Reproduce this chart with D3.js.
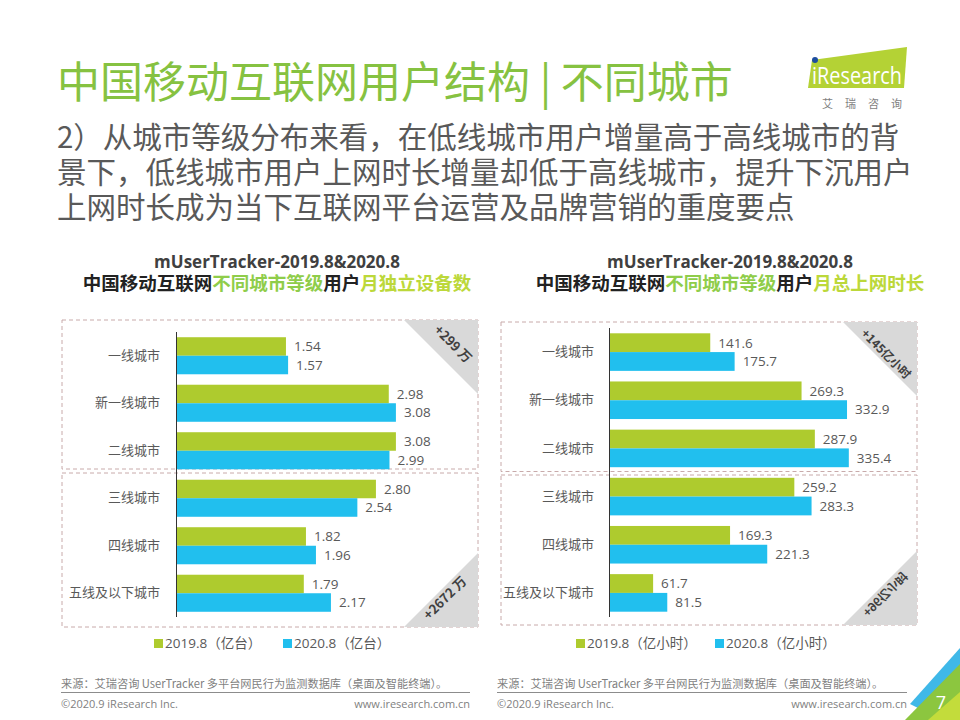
<!DOCTYPE html>
<html><head><meta charset="utf-8">
<script src="https://cdn.jsdelivr.net/npm/d3@7"></script>
<style>body{margin:0;background:#fff} svg{display:block}</style>
</head><body><svg id="c" width="960" height="720"></svg>
<script>
// ---------- data ----------
const categories = ["一线城市","新一线城市","二线城市","三线城市","四线城市","五线及以下城市"];
const seriesKeys = ["2019.8","2020.8"];
const devices2019 = [1.54, 2.98, 3.08, 2.80, 1.82, 1.79];
const devices2020 = [1.57, 3.08, 2.99, 2.54, 1.96, 2.17];
const hours2019 = [141.6, 269.3, 287.9, 259.2, 169.3, 61.7];
const hours2020 = [175.7, 332.9, 335.4, 283.3, 221.3, 81.5];
const deviceLegend = ["2019.8（亿台）","2020.8（亿台）"];
const hourLegend = ["2019.8（亿小时）","2020.8（亿小时）"];
const deviceDeltas = ["+299 万","+2672 万"];
const hourDeltas = ["+145亿小时","+96亿小时"];

const GREEN = "#aecb2e", BLUE = "#21bfee";
const TXT = "#595959";
const CJK = "'Noto Sans CJK SC','Noto Sans',sans-serif";
const LAT = "'Open Sans','Noto Sans CJK SC',sans-serif";

const svg = d3.select("#c");

// ---------- header ----------
svg.append("text").attr("x",57).attr("y",98)
  .attr("font-family",CJK).attr("font-size",43).attr("fill","#86c241")
  .text("中国移动互联网用户结构 | 不同城市");

const sub = ["2）从城市等级分布来看，在低线城市用户增量高于高线城市的背",
             "景下，低线城市用户上网时长增量却低于高线城市，提升下沉用户",
             "上网时长成为当下互联网平台运营及品牌营销的重度要点"];
svg.append("g").selectAll("text").data(sub).join("text")
  .attr("x",57).attr("y",(d,i)=>148+i*35)
  .attr("font-family",CJK).attr("font-size",29.5).attr("fill",TXT)
  .text(d=>d);

// logo
const logo = svg.append("g");
logo.append("path").attr("d","M812,60 L907,47 L904,88 L808,88 Z").attr("fill","#b4d235");
logo.append("circle").attr("cx",815).attr("cy",60).attr("r",3).attr("fill","#1d4e9e");
logo.append("text").attr("x",812).attr("y",84).attr("font-family",LAT).attr("font-size",24)
  .attr("fill","#fff").attr("textLength",90).attr("lengthAdjust","spacingAndGlyphs").text("iResearch");
logo.append("text").attr("x",822).attr("y",108).attr("font-family",CJK).attr("font-size",11)
  .attr("fill","#7f7f7f").attr("letter-spacing",12).text("艾瑞咨询");

// ---------- chart function ----------
function drawChart(cfg){
  const g = svg.append("g");
  const x = d3.scaleLinear().domain(cfg.domain).range([cfg.axisX, cfg.axisX + cfg.width]);
  const y = d3.scaleBand().domain(categories).range(cfg.yRange).paddingInner(0.22).paddingOuter(0.11);
  const ys = d3.scaleBand().domain(seriesKeys).range([0, y.bandwidth()]);
  const colors = d3.scaleOrdinal().domain(seriesKeys).range([GREEN, BLUE]);

  // title
  g.append("text").attr("x",cfg.cx).attr("y",268).attr("text-anchor","middle")
    .attr("font-family",LAT).attr("font-weight","bold").attr("font-size",17).attr("fill","#404040")
    .text("mUserTracker-2019.8&2020.8");
  const t2 = g.append("text").attr("x",cfg.cx).attr("y",290).attr("text-anchor","middle")
    .attr("font-family",CJK).attr("font-weight","bold").attr("font-size",18.5);
  cfg.titleParts.forEach(p=>t2.append("tspan").attr("fill",p[1]).text(p[0]));

  // dashed boxes
  cfg.boxes.forEach(b=>{
    g.append("rect").attr("x",cfg.boxX0).attr("y",b[0]).attr("width",cfg.boxX1-cfg.boxX0).attr("height",b[1]-b[0])
      .attr("fill","none").attr("stroke","#c8aaaa").attr("stroke-dasharray","4,3");
  });
  // corner triangles
  const L = 74;
  const tb = cfg.boxes[0], bb = cfg.boxes[1], X1 = cfg.boxX1;
  g.append("path").attr("d",`M${X1-L},${tb[0]} L${X1},${tb[0]} L${X1},${tb[0]+L} Z`).attr("fill","#d9d9d9");
  g.append("path").attr("d",`M${X1},${bb[1]-L} L${X1},${bb[1]} L${X1-L},${bb[1]} Z`).attr("fill","#d9d9d9");
  g.append("text").attr("transform",`translate(${X1-cfg.d1[0]},${tb[0]+cfg.d1[1]}) rotate(45)`)
    .attr("text-anchor","middle").attr("dy","0.35em").attr("font-family",CJK).attr("font-weight","bold")
    .attr("font-size",cfg.dfs).attr("fill","#404040").text(cfg.deltas[0]);
  g.append("text").attr("transform",`translate(${X1-cfg.d2[0]},${bb[1]-cfg.d2[1]}) rotate(-45)${cfg.flip?" scale(1,-1)":""}`)
    .attr("text-anchor","middle").attr("dy","0.35em").attr("font-family",CJK).attr("font-weight","bold")
    .attr("font-size",cfg.dfs).attr("fill","#404040").text(cfg.deltas[1]);

  // bars
  const rows = categories.map((c,i)=>({cat:c, vals:[cfg.s1[i], cfg.s2[i]]}));
  const grp = g.selectAll("g.row").data(rows).join("g").attr("transform",d=>`translate(0,${y(d.cat)})`);
  grp.selectAll("rect").data(d=>d.vals.map((v,j)=>({k:seriesKeys[j], v}))).join("rect")
    .attr("x",x(0)).attr("y",d=>ys(d.k)).attr("height",ys.bandwidth())
    .attr("width",d=>x(d.v)-x(0)).attr("fill",d=>colors(d.k));
  grp.selectAll("text.val").data(d=>d.vals.map((v,j)=>({k:seriesKeys[j], v}))).join("text")
    .attr("class","val").attr("x",d=>x(d.v)+8).attr("y",d=>ys(d.k)+ys.bandwidth()/2).attr("dy","0.36em")
    .attr("font-family",LAT).attr("font-size",13.5).attr("fill",TXT).text(d=>cfg.fmt(d.v));

  // category axis
  const ax = g.append("g").attr("transform",`translate(${x(0)},0)`)
    .call(d3.axisLeft(y).tickSize(0).tickPadding(cfg.axisX-cfg.labelX));
  ax.select(".domain").attr("stroke","#333").attr("d",`M0.5,${cfg.yRange[0]}V${cfg.yRange[1]}`);
  ax.selectAll("text").attr("font-family",CJK).attr("font-size",13).attr("fill",TXT);

  // legend
  const lg = g.append("g");
  cfg.legend.forEach((t,j)=>{
    lg.append("rect").attr("x",cfg.legX[j]).attr("y",639).attr("width",9).attr("height",9).attr("fill",colors(seriesKeys[j]));
    lg.append("text").attr("x",cfg.legX[j]+11).attr("y",648).attr("font-family",LAT).attr("font-size",13.5)
      .attr("fill",TXT).text(t);
  });

  // footer
  const f = g.append("g").attr("fill","#7f7f7f");
  f.append("text").attr("x",cfg.footX0).attr("y",688).attr("font-family",CJK).attr("font-size",11.2)
    .text("来源：艾瑞咨询 UserTracker 多平台网民行为监测数据库（桌面及智能终端）。");
  f.append("line").attr("x1",cfg.footX0).attr("x2",cfg.footX1).attr("y1",692.5).attr("y2",692.5).attr("stroke","#8c8c8c");
  f.append("text").attr("x",cfg.footX0).attr("y",708).attr("font-family",LAT).attr("font-size",11).text("©2020.9 iResearch Inc.");
  f.append("text").attr("x",cfg.footX1).attr("y",708).attr("text-anchor","end").attr("font-family",LAT).attr("font-size",11).text("www.iresearch.com.cn");
}

drawChart({
  s1:devices2019, s2:devices2020, domain:[0,4], axisX:176, width:285.6, yRange:[332,617],
  fmt:d3.format(".2f"), labelX:160, cx:277,
  titleParts:[["中国移动互联网","#222"],["不同城市等级","#8fcd4a"],["用户","#222"],["月独立设备数","#bcd83a"]],
  boxX0:62, boxX1:478, boxes:[[320,469],[473,627]], deltas:deviceDeltas, flip:false,
  d1:[25,24], d2:[33,29], dfs:13,
  legend:deviceLegend, legX:[154,283], footX0:61, footX1:470
});
drawChart({
  s1:hours2019, s2:hours2020, domain:[0,400], axisX:609, width:286, yRange:[328,617],
  fmt:d3.format(".1f"), labelX:594, cx:730,
  titleParts:[["中国移动互联网","#222"],["不同城市等级","#8fcd4a"],["用户","#222"],["月总上网时长","#bcd83a"]],
  boxX0:501, boxX1:917, boxes:[[322,471.5],[475,625]], deltas:hourDeltas, flip:true,
  d1:[31,32], d2:[32,31], dfs:12,
  legend:hourLegend, legX:[576,715], footX0:497, footX1:907
});

// page corner decoration
const corner = svg.append("g");
corner.append("path").attr("d","M960,648 L960,668 L918,708 L910,704 Z").attr("fill","#3fb8e8");
corner.append("path").attr("d","M960,664 L960,720 L905,720 Z").attr("fill","#8cc63f");
corner.append("path").attr("d","M960,692 L960,720 L928,720 Z").attr("fill","#c3dc3b");
corner.append("text").attr("x",941).attr("y",709).attr("text-anchor","middle").attr("font-family",LAT)
  .attr("font-size",18).attr("fill","#fff").text("7");
</script></body></html>
